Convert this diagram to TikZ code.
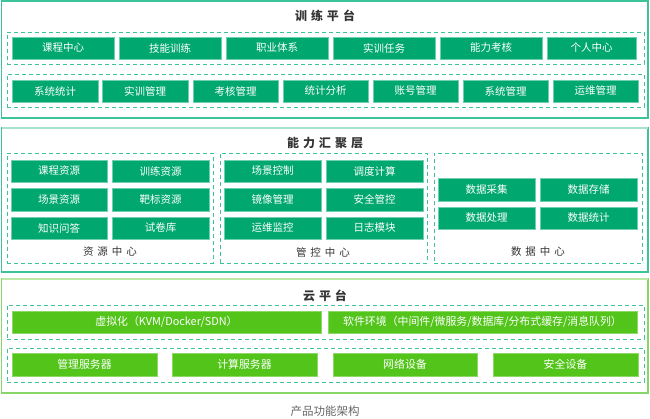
\documentclass[tikz,border=0pt]{standalone}
\usepackage{fontspec}
\setmainfont{Noto Sans CJK SC}
\definecolor{tealfill}{HTML}{00A870}
\definecolor{tealedge}{HTML}{6FD0AD}
\definecolor{tealline}{HTML}{3DC39A}
\definecolor{teallight}{HTML}{A6E3CC}
\definecolor{cloudfill}{HTML}{52C41A}
\definecolor{cloudedge}{HTML}{8ED86A}
\definecolor{cloudline}{HTML}{86D66A}
\definecolor{cloudlight}{HTML}{BDE9A6}
\definecolor{titlegray}{HTML}{333333}
\definecolor{capgray}{HTML}{666666}
\tikzset{
  tbox/.style={rectangle, fill=tealfill, draw=tealedge, line width=0.8pt, text=white, font=\fontsize{10.5}{12}\selectfont, inner sep=0pt, outer sep=0pt},
  cbox/.style={rectangle, fill=cloudfill, draw=cloudedge, line width=0.8pt, text=white, font=\fontsize{10.9}{12}\selectfont, inner sep=0pt, outer sep=0pt},
  dashbox/.style={rectangle, draw=tealline, line width=0.9pt, dash pattern=on 4pt off 3pt, inner sep=0pt, outer sep=0pt},
  outerbox/.style={rectangle, line width=1.4pt, inner sep=0pt, outer sep=0pt},
  ttl/.style={text=titlegray, font=\fontsize{12}{14}\selectfont\bfseries, inner sep=0pt},
  sublbl/.style={text=titlegray, font=\fontsize{10.5}{12}\selectfont, inner sep=0pt},
}
\newcommand\Bx[7]{\node[#1, minimum width={#5pt-#3pt}, minimum height={#6pt-#4pt}] (#2) at ({(#3+#5)/2},{(#4+#6)/2}) {#7};}
\newcommand\lsp{\hspace{4pt}}
\begin{document}
\begin{tikzpicture}[x=1pt,y=-1pt]
\useasboundingbox (0,0) rectangle (650,419);
% ---------- top section ----------
\Bx{outerbox, draw=tealline}{top}{1.5}{1}{648}{118}{}
\node[ttl] (toptitle) at (325,16) {训\lsp 练\lsp 平\lsp 台};
\Bx{dashbox}{tr1}{7}{32}{644}{64}{}
\Bx{tbox}{a1}{12}{37}{114}{59}{课程中心}
\Bx{tbox}{a2}{119}{37}{221}{59}{技能训练}
\Bx{tbox}{a3}{226}{37}{328}{59}{职业体系}
\Bx{tbox}{a4}{333}{37}{435}{59}{实训任务}
\Bx{tbox}{a5}{440}{37}{542}{59}{能力考核}
\Bx{tbox}{a6}{547}{37}{636}{59}{个人中心}
\Bx{dashbox}{tr2}{7}{74}{644}{107}{}
\Bx{tbox}{b1}{12}{80}{98}{102}{系统统计}
\Bx{tbox}{b2}{102}{80}{188}{102}{实训管理}
\Bx{tbox}{b3}{193}{80}{278}{102}{考核管理}
\Bx{tbox}{b4}{283}{80}{368}{102}{统计分析}
\Bx{tbox}{b5}{373}{80}{458}{102}{账号管理}
\Bx{tbox}{b6}{463}{80}{548}{102}{系统管理}
\Bx{tbox}{b7}{553}{80}{638}{102}{运维管理}
% ---------- middle section ----------
\Bx{outerbox, draw=tealline}{mid}{1.5}{128}{648}{272}{}
\draw[teallight, line width=1.4pt] (mid.north west) -- (mid.north east);
\node[ttl] (midtitle) at (325,143) {能\lsp 力\lsp 汇\lsp 聚\lsp 层};
\Bx{dashbox}{res}{7}{153}{213}{263}{}
\Bx{tbox}{r1}{11}{160}{107}{182}{课程资源}
\Bx{tbox}{r2}{112}{160}{209}{182}{训练资源}
\Bx{tbox}{r3}{11}{188}{107}{211}{场景资源}
\Bx{tbox}{r4}{112}{188}{209}{211}{靶标资源}
\Bx{tbox}{r5}{11}{217}{107}{239}{知识问答}
\Bx{tbox}{r6}{112}{217}{209}{239}{试卷库}
\node[sublbl] (reslbl) at (110,252) {资\lsp 源\lsp 中\lsp 心};
\Bx{dashbox}{ctl}{220}{153}{427}{263}{}
\Bx{tbox}{k1}{224}{160}{321}{182}{场景控制}
\Bx{tbox}{k2}{326}{160}{423}{182}{调度计算}
\Bx{tbox}{k3}{224}{188}{321}{211}{镜像管理}
\Bx{tbox}{k4}{326}{188}{423}{211}{安全管控}
\Bx{tbox}{k5}{224}{217}{321}{239}{运维监控}
\Bx{tbox}{k6}{326}{217}{423}{239}{日志模块}
\node[sublbl] (ctllbl) at (323,252) {管\lsp 控\lsp 中\lsp 心};
\Bx{dashbox}{dat}{434}{153}{642}{263}{}
\Bx{tbox}{d1}{438}{178}{535}{201}{数据采集}
\Bx{tbox}{d2}{540}{178}{637}{201}{数据存储}
\Bx{tbox}{d3}{438}{207}{535}{229}{数据处理}
\Bx{tbox}{d4}{540}{207}{637}{229}{数据统计}
\node[sublbl] (datlbl) at (538,252) {数\lsp 据\lsp 中\lsp 心};
% ---------- bottom section ----------
\Bx{outerbox, draw=cloudline}{bot}{1.5}{279}{648}{393}{}
\draw[cloudlight, line width=1.4pt] (bot.north west) -- (bot.north east);
\node[ttl] (bottitle) at (325,296) {云\lsp 平\lsp 台};
\Bx{dashbox}{br1}{7}{305}{644}{339}{}
\Bx{cbox}{c1}{12}{311}{321}{333}{虚拟化（KVM/Docker/SDN）}
\Bx{cbox}{c2}{328}{311}{637}{333}{软件环境（中间件/微服务/数据库/分布式缓存/消息队列）}
\Bx{dashbox}{br2}{7}{348}{644}{382}{}
\Bx{cbox}{s1}{12}{353}{157}{376}{管理服务器}
\Bx{cbox}{s2}{172}{353}{317}{376}{计算服务器}
\Bx{cbox}{s3}{333}{353}{477}{376}{网络设备}
\Bx{cbox}{s4}{493}{353}{638}{376}{安全设备}
\node[text=capgray, font=\fontsize{11.5}{13}\selectfont, inner sep=0pt] (cap) at (325,411) {产品功能架构};
\end{tikzpicture}
\end{document}
